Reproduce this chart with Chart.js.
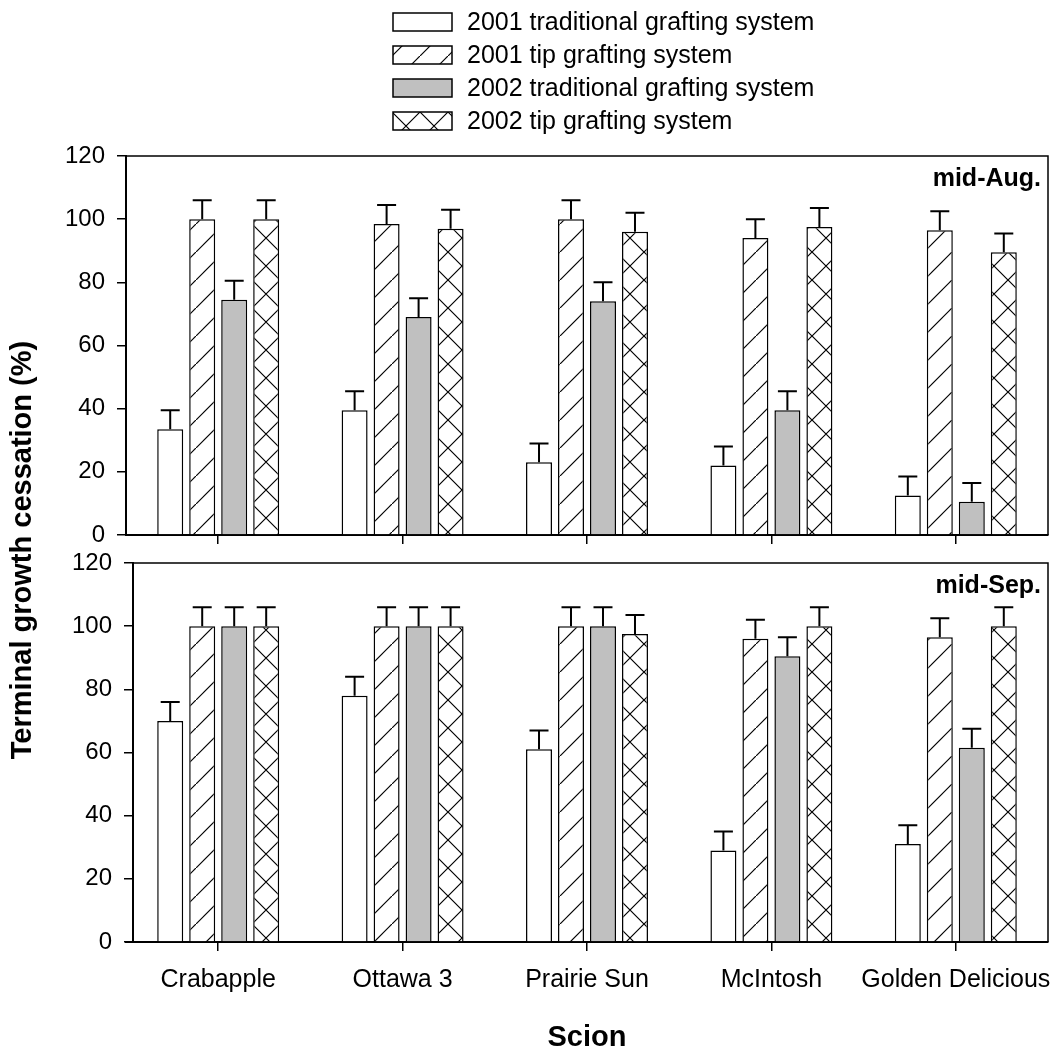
<!DOCTYPE html>
<html>
<head>
<meta charset="utf-8">
<script src="https://cdn.jsdelivr.net/npm/chart.js@4.4.0/dist/chart.umd.min.js"></script>
<style>
  html, body { margin: 0; padding: 0; background: #fff; overflow: hidden; }
  .panel { position: absolute; left: 0; top: 0; width: 1057px; height: 1049px; }
</style>
</head>
<body>
<div class="panel"><canvas id="aug"></canvas></div>
<div class="panel"><canvas id="sep"></canvas></div>
<script>
const scions = ['Crabapple', 'Ottawa 3', 'Prairie Sun', 'McIntosh', 'Golden Delicious'];
const seriesNames = [
  '2001 traditional grafting system',
  '2001 tip grafting system',
  '2002 traditional grafting system',
  '2002 tip grafting system'
];
const yTicks = [0, 20, 40, 60, 80, 100, 120];

// mid-Aug.
const aug2001Trad = [33.5, 39.5, 23, 22, 12.5];
const aug2001Tip  = [100, 98.5, 100, 94, 96.5];
const aug2002Trad = [74.5, 69, 74, 39.5, 10.5];
const aug2002Tip  = [100, 97, 96, 97.5, 89.5];
const augErr = [6, 6, 6, 6, 6];

// mid-Sep.
const sep2001Trad = [70, 78, 61, 29, 31];
const sep2001Tip  = [100, 100, 100, 96, 96.5];
const sep2002Trad = [100, 100, 100, 90.5, 61.5];
const sep2002Tip  = [100, 100, 97.5, 100, 100];
const sepErr = [6, 6, 6, 6, 6];

const FONT = "'Liberation Sans', Arial, sans-serif";

function hatch(cross) {
  const s = 28;
  const c = document.createElement('canvas');
  c.width = s; c.height = s;
  const g = c.getContext('2d');
  g.fillStyle = '#fff';
  g.fillRect(0, 0, s, s);
  g.strokeStyle = '#000';
  g.lineWidth = 1.2;
  g.beginPath();
  g.moveTo(-2, s + 2); g.lineTo(s + 2, -2);
  if (cross) { g.moveTo(-2, -2); g.lineTo(s + 2, s + 2); }
  g.stroke();
  return g.createPattern(c, 'repeat');
}

const fills = ['#ffffff', hatch(false), '#c0c0c0', hatch(true)];

class ShiftedLinearScale extends Chart.LinearScale {
  draw(area) {
    const ctx = this.ctx;
    ctx.save();
    ctx.translate(this.options.shift || 0, 0);
    super.draw(area);
    ctx.restore();
  }
}
ShiftedLinearScale.id = 'shiftedLinear';
ShiftedLinearScale.defaults = Chart.LinearScale.defaults;
Chart.register(ShiftedLinearScale);

// error bars drawn above each bar
const errorBars = {
  id: 'errorBars',
  afterDatasetsDraw(chart) {
    const ctx = chart.ctx;
    const y = chart.scales.y;
    ctx.save();
    ctx.strokeStyle = '#000';
    ctx.lineWidth = 2;
    chart.data.datasets.forEach((ds, i) => {
      chart.getDatasetMeta(i).data.forEach((bar, j) => {
        const top = y.getPixelForValue(ds.data[j] + ds.errors[j]);
        ctx.beginPath();
        ctx.moveTo(bar.x, bar.y);
        ctx.lineTo(bar.x, top);
        ctx.moveTo(bar.x - 9.5, top);
        ctx.lineTo(bar.x + 9.5, top);
        ctx.stroke();
      });
    });
    ctx.restore();
  }
};

// top and right frame lines and the panel label
const frame = {
  id: 'frame',
  afterDraw(chart, args, opts) {
    const { ctx, chartArea: a } = chart;
    ctx.save();
    ctx.strokeStyle = '#000';
    ctx.lineWidth = 1.5;
    ctx.beginPath();
    ctx.moveTo(a.left + opts.shift, a.top);
    ctx.lineTo(a.right, a.top);
    ctx.lineTo(a.right, a.bottom);
    ctx.stroke();
    ctx.fillStyle = '#000';
    ctx.font = 'bold 25px ' + FONT;
    ctx.textAlign = 'right';
    ctx.textBaseline = 'middle';
    ctx.fillText(opts.label, a.right - 7, a.top + 23);
    ctx.restore();
  }
};

const legendBox = {
  id: 'legendBox',
  afterDraw(chart) {
    const ctx = chart.ctx;
    ctx.save();
    chart.data.datasets.forEach((ds, i) => {
      const top = 13 + i * 33;
      ctx.fillStyle = ds.backgroundColor;
      ctx.fillRect(393, top, 59, 18);
      ctx.strokeStyle = '#000';
      ctx.lineWidth = 1.5;
      ctx.strokeRect(393, top, 59, 18);
      ctx.fillStyle = '#000';
      ctx.font = '25px ' + FONT;
      ctx.textAlign = 'left';
      ctx.textBaseline = 'middle';
      ctx.fillText(ds.label, 467, top + 10);
    });
    ctx.restore();
  }
};

const yTitle = {
  id: 'yTitle',
  afterDraw(chart) {
    const ctx = chart.ctx;
    ctx.save();
    ctx.translate(23, 550);
    ctx.rotate(-Math.PI / 2);
    ctx.fillStyle = '#000';
    ctx.font = 'bold 29px ' + FONT;
    ctx.textAlign = 'center';
    ctx.textBaseline = 'middle';
    ctx.fillText('Terminal growth cessation (%)', 0, 0);
    ctx.restore();
  }
};

function makeDatasets(values, err) {
  return values.map((v, i) => ({
    label: seriesNames[i],
    data: v,
    errors: err,
    backgroundColor: fills[i],
    borderColor: '#000',
    borderWidth: 1.5,
    categoryPercentage: 0.694,
    barPercentage: 0.8125
  }));
}

function panel(id, values, err, o) {
  return new Chart(document.getElementById(id), {
    type: 'bar',
    data: { labels: scions, datasets: makeDatasets(values, err) },
    plugins: o.plugins,
    options: {
      responsive: true,
      maintainAspectRatio: false,
      animation: false,
      layout: { padding: { top: o.top, left: 0, right: 9, bottom: o.bottom } },
      plugins: {
        legend: { display: false },
        tooltip: { enabled: false },
        frame: { shift: o.shift, label: o.label }
      },
      scales: {
        x: {
          afterFit: s => { s.height = o.xHeight; s.paddingLeft = 0; s.paddingRight = 0; },
          grid: { offset: false, drawOnChartArea: false, drawTicks: true, tickLength: 9, color: '#000', lineWidth: 1.5 },
          border: { display: true, color: '#000', width: 2 },
          ticks: {
            display: o.showLabels, color: '#000', padding: 14,
            maxRotation: 0, minRotation: 0, autoSkip: false,
            font: { family: FONT, size: 25 }
          },
          title: {
            display: o.showLabels,
            text: 'Scion',
            color: '#000',
            font: { family: FONT, size: 29, weight: 'bold', lineHeight: 1 },
            padding: { top: 0, bottom: -3 }
          }
        },
        y: {
          type: 'shiftedLinear',
          shift: o.shift,
          min: 0,
          max: 120,
          afterFit: s => { s.width = 126; s.paddingTop = 0; s.paddingBottom = 0; },
          afterBuildTicks: s => { s.ticks = yTicks.map(v => ({ value: v })); },
          grid: { drawOnChartArea: false, drawTicks: true, tickLength: 9, color: '#000', lineWidth: 1.5 },
          border: { display: true, color: '#000', width: 2 },
          ticks: { color: '#000', padding: 12, font: { family: FONT, size: 24 } }
        }
      }
    }
  });
}

panel('aug', [aug2001Trad, aug2001Tip, aug2002Trad, aug2002Tip], augErr, {
  top: 156, bottom: 1049 - 535 - 20, xHeight: 20, shift: 0, label: 'mid-Aug.',
  showLabels: false, plugins: [errorBars, frame, legendBox]
});

panel('sep', [sep2001Trad, sep2001Tip, sep2002Trad, sep2002Tip], sepErr, {
  top: 563, bottom: 0, xHeight: 1049 - 942, shift: 7, label: 'mid-Sep.',
  showLabels: true, plugins: [errorBars, frame, yTitle]
});
</script>
</body>
</html>
